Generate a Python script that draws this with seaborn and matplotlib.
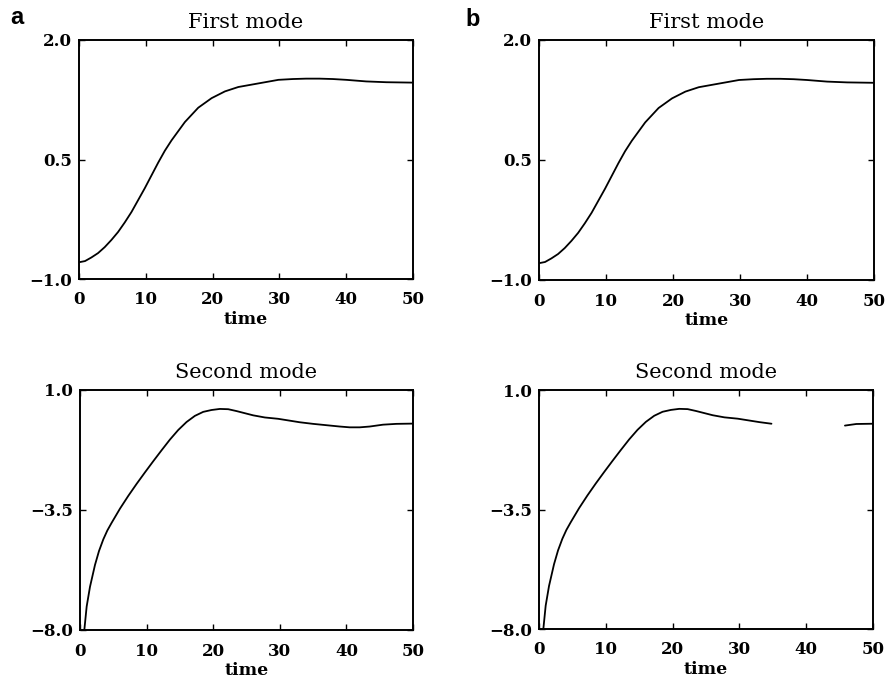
import numpy as np
import pandas as pd
import matplotlib
matplotlib.use("Agg")
import matplotlib.pyplot as plt
import seaborn as sns

# ---- data ----
time_first = [0, 0.9, 1.85, 2.85, 3.85, 4.85, 5.85, 6.85, 7.85, 8.85, 9.85, 10.85, 11.85, 12.85,
              13.85, 15.85, 17.85, 19.85, 21.85, 23.85, 25.85, 27.85, 29.85, 32, 34, 36, 38, 40,
              43, 46, 50]
first_mode = [-0.79, -0.775, -0.73, -0.675, -0.60, -0.51, -0.41, -0.29, -0.16, -0.01, 0.14, 0.30,
              0.46, 0.61, 0.74, 0.97, 1.15, 1.27, 1.355, 1.41, 1.44, 1.47, 1.50, 1.51, 1.515,
              1.515, 1.51, 1.50, 1.48, 1.47, 1.465]

time_second = [0.65, 1.0, 1.5, 2.25, 2.85, 3.5, 4.1, 4.75, 6.0, 7.25, 8.5, 9.75, 11.0, 12.25,
               13.5, 14.75, 16.0, 17.25, 18.5, 19.75, 21.0, 22.25, 23.5, 24.75, 26.0, 27.75,
               29.75, 31.5, 33.0, 35.0, 37.0, 39.0, 40.5, 42.0, 43.5, 45.5, 47.5, 50.0]
second_mode = [-8.0, -7.12, -6.38, -5.56, -5.04, -4.60, -4.27, -3.98, -3.45, -2.97, -2.52, -2.09,
               -1.67, -1.26, -0.86, -0.50, -0.20, 0.03, 0.18, 0.25, 0.29, 0.28, 0.21, 0.13, 0.05,
               -0.03, -0.08, -0.15, -0.21, -0.27, -0.32, -0.37, -0.40, -0.40, -0.37, -0.30,
               -0.27, -0.26]

# panel b second mode: same curve, but missing between t≈35 and t≈45.8
time_second_b = [0.65, 1.0, 1.5, 2.25, 2.85, 3.5, 4.1, 4.75, 6.0, 7.25, 8.5, 9.75, 11.0, 12.25,
                 13.5, 14.75, 16.0, 17.25, 18.5, 19.75, 21.0, 22.25, 23.5, 24.75, 26.0, 27.75,
                 29.75, 31.5, 33.0, 34.8, 40.0, 45.8, 47.5, 50.0]
second_mode_b = [-8.0, -7.12, -6.38, -5.56, -5.04, -4.60, -4.27, -3.98, -3.45, -2.97, -2.52, -2.09,
                 -1.67, -1.26, -0.86, -0.50, -0.20, 0.03, 0.18, 0.25, 0.29, 0.28, 0.21, 0.13,
                 0.05, -0.03, -0.08, -0.15, -0.21, -0.27, np.nan, -0.34, -0.28, -0.27]

x_ticks = [0, 10, 20, 30, 40, 50]
first_yticks = [-1.0, 0.5, 2.0]
second_yticks = [-8.0, -3.5, 1.0]
titles = ["First mode", "Second mode"]
panel_letters = ["a", "b"]
xlabel = "time"

sns.set_style("ticks")
plt.rcParams["font.family"] = ["DejaVu Serif", "DejaVu Sans"]

W, H = 886, 686
fig = plt.figure(figsize=(W / 100, H / 100), dpi=100)

def add_ax(left, right, top, bottom):
    return fig.add_axes([left / W, 1 - bottom / H, (right - left) / W, (bottom - top) / H])

axes = {
    ("a", 0): add_ax(79, 413, 40, 279),
    ("b", 0): add_ax(539, 874, 40, 280),
    ("a", 1): add_ax(80, 413, 390, 630),
    ("b", 1): add_ax(539, 873, 390, 629),
}

data = {
    ("a", 0): (time_first, first_mode),
    ("b", 0): (time_first, first_mode),
    ("a", 1): (time_second, second_mode),
    ("b", 1): (time_second_b, second_mode_b),
}

for (letter, row), ax in axes.items():
    t, v = data[(letter, row)]
    df = pd.DataFrame({"time": t, "value": v})
    mask = df["value"].isna()
    seg_id = mask.cumsum()
    for _, seg in df[~mask].groupby(seg_id[~mask]):
        sns.lineplot(data=seg, x="time", y="value", ax=ax, color="black", lw=1.3, sort=False)
    yt = first_yticks if row == 0 else second_yticks
    ax.set_xlim(0, 50)
    ax.set_ylim(yt[0], yt[-1])
    ax.set_xticks(x_ticks)
    ax.set_yticks(yt)
    ax.set_xticklabels([str(x) for x in x_ticks])
    ax.set_yticklabels([f"{y:.1f}".replace("-", "\u2212") for y in yt])
    ax.tick_params(direction="in", top=True, right=True, length=4, width=1.0,
                   labelsize=12, colors="black")
    ax.tick_params(axis="x", pad=9)
    ax.tick_params(axis="y", pad=5)
    for lab in ax.get_xticklabels() + ax.get_yticklabels():
        lab.set_fontweight("bold")
    ax.set_xlabel(xlabel, fontsize=12.5, fontweight="bold", labelpad=2, color="black")
    ax.set_ylabel("")
    ax.set_title(titles[row], fontsize=15, pad=9, color="black")
    for s in ax.spines.values():
        s.set_visible(True)
        s.set_linewidth(1.4)
        s.set_color("black")

fig.text(10 / W, 1 - 24 / H, panel_letters[0], fontsize=17, fontweight="bold",
         family="Liberation Sans", color="black")
fig.text(465 / W, 1 - 26 / H, panel_letters[1], fontsize=17, fontweight="bold",
         family="Liberation Sans", color="black")

fig.savefig("out.png", dpi=100, facecolor="white")
